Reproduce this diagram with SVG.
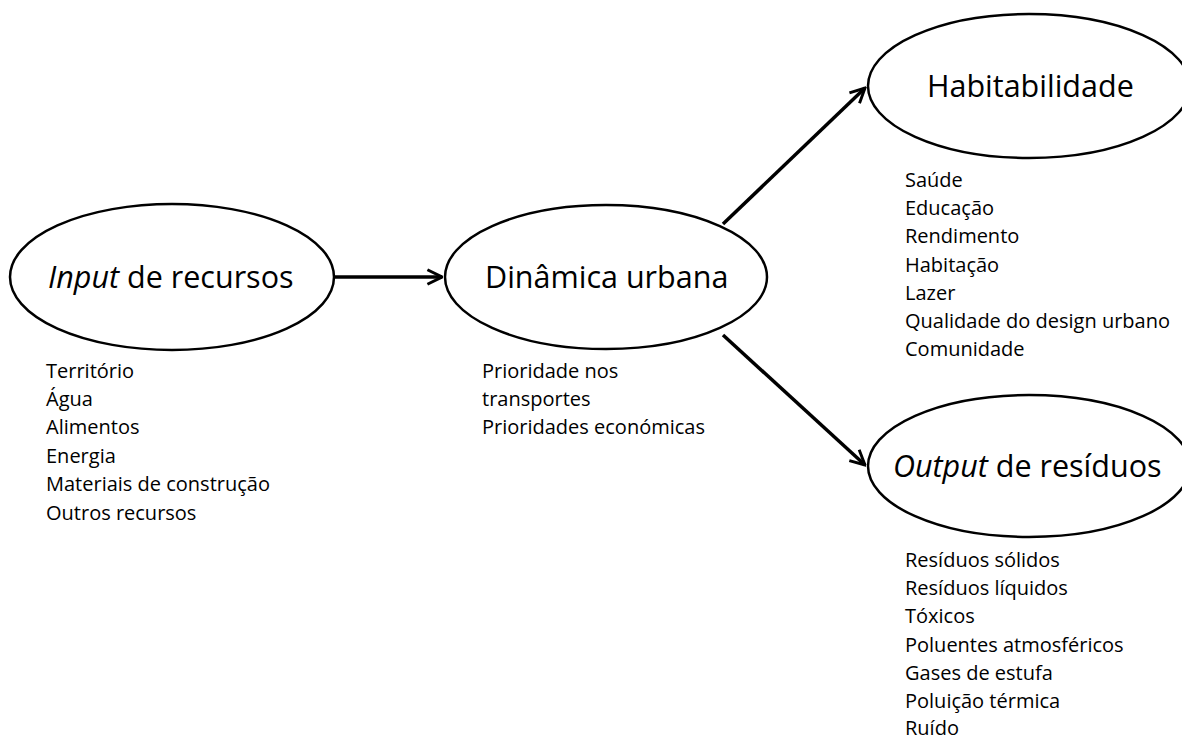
<svg xmlns="http://www.w3.org/2000/svg" width="1182" height="737" viewBox="0 0 1182 737">
<style>
.node{fill:#fff;stroke:#000;stroke-width:2.5}
.title{font-family:"Open Sans","Noto Sans","Liberation Sans",sans-serif;font-size:30.5px;fill:#000}
.list{font-family:"Open Sans","Noto Sans","Liberation Sans",sans-serif;font-size:20px;fill:#000}
.conn{stroke:#000;stroke-width:3.5;fill:none}
</style>
<defs>
<marker id="arr" viewBox="0 0 12 12" refX="11" refY="6" markerWidth="5" markerHeight="5" markerUnits="strokeWidth" orient="auto">
<path d="M1,1 L11,6 L1,11" fill="none" stroke="#000" stroke-width="2"/>
</marker>
</defs>
<rect width="1182" height="737" fill="#fff"/>
<g id="connectors">
<line class="conn" x1="335" y1="277" x2="442" y2="277" marker-end="url(#arr)"/>
<line class="conn" x1="723" y1="224" x2="865" y2="88" marker-end="url(#arr)"/>
<line class="conn" x1="723" y1="335" x2="865" y2="465" marker-end="url(#arr)"/>
</g>
<g id="input">
<ellipse class="node" cx="172" cy="277" rx="162" ry="73"/>
<text class="title" x="48" y="288"><tspan font-style="italic">Input</tspan> de recursos</text>
<text class="list" x="46" y="378">Território</text>
<text class="list" x="46" y="406">Água</text>
<text class="list" x="46" y="434">Alimentos</text>
<text class="list" x="46" y="463">Energia</text>
<text class="list" x="46" y="491">Materiais de construção</text>
<text class="list" x="46" y="520">Outros recursos</text>
</g>
<g id="dinamica">
<ellipse class="node" cx="606" cy="277" rx="161" ry="72"/>
<text class="title" x="485" y="288">Dinâmica urbana</text>
<text class="list" x="482" y="378">Prioridade nos</text>
<text class="list" x="482" y="406">transportes</text>
<text class="list" x="482" y="434">Prioridades económicas</text>
</g>
<g id="habitabilidade">
<ellipse class="node" cx="1029" cy="86" rx="161" ry="72"/>
<text class="title" x="927" y="97">Habitabilidade</text>
<text class="list" x="905" y="187">Saúde</text>
<text class="list" x="905" y="215">Educação</text>
<text class="list" x="905" y="243">Rendimento</text>
<text class="list" x="905" y="272">Habitação</text>
<text class="list" x="905" y="300">Lazer</text>
<text class="list" x="905" y="328">Qualidade do design urbano</text>
<text class="list" x="905" y="356">Comunidade</text>
</g>
<g id="output">
<ellipse class="node" cx="1029" cy="466" rx="161" ry="71"/>
<text class="title" x="893" y="477"><tspan font-style="italic">Output</tspan> de resíduos</text>
<text class="list" x="905" y="567">Resíduos sólidos</text>
<text class="list" x="905" y="595">Resíduos líquidos</text>
<text class="list" x="905" y="623">Tóxicos</text>
<text class="list" x="905" y="652">Poluentes atmosféricos</text>
<text class="list" x="905" y="680">Gases de estufa</text>
<text class="list" x="905" y="708">Poluição térmica</text>
<text class="list" x="905" y="735">Ruído</text>
</g>
</svg>
